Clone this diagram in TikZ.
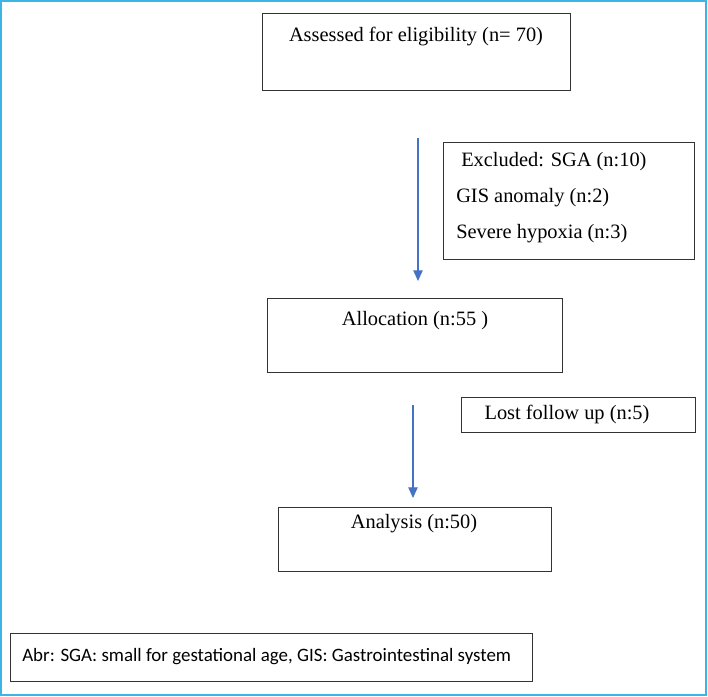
\documentclass[tikz,border=0pt]{standalone}
\usepackage{fontspec}
\setmainfont{Liberation Serif}
\newfontfamily\abrfont{Carlito}
\usetikzlibrary{arrows.meta}
\definecolor{frameblue}{RGB}{60,180,230}
\definecolor{arrblue}{RGB}{68,114,196}
\begin{document}
\begin{tikzpicture}[x=0.75pt,y=-0.75pt,
  box/.style={draw=black!80,line width=0.6pt},
  txt/.style={font=\fontsize{15.3}{17}\selectfont,inner sep=0pt},
  arr/.style={draw=arrblue,line width=0.9pt,-{Triangle[length=8pt,width=7pt]},fill=arrblue}]
\useasboundingbox (0,0) rectangle (708,697);
\draw[frameblue,line width=1.3pt] (1,1) rectangle (706,695);
\draw[box] (262,13) rectangle (570,90);
\node[txt] (t1) at (416,37) {Assessed for eligibility (n= 70)};
\draw[box] (443,142) rectangle (694,259);
\node[txt,anchor=west] (e1) at (461,162) {Excluded: SGA (n:10)};
\node[txt,anchor=west] (e2) at (456,198) {GIS anomaly (n:2)};
\node[txt,anchor=west] (e3) at (456,234) {Severe hypoxia (n:3)};
\draw[box] (267,298) rectangle (562,372);
\node[txt] (t2) at (415,321) {Allocation (n:55 )};
\draw[box] (461,397) rectangle (695,432);
\node[txt] (t3) at (567,414) {Lost follow up (n:5)};
\draw[box] (278,507) rectangle (551,571);
\node[txt] (t4) at (414,524) {Analysis (n:50)};
\draw[box] (10,633) rectangle (532,681);
\node[inner sep=0pt,anchor=west,font=\abrfont\fontsize{14.2}{16}\selectfont] (abr) at (22,657) {Abr: SGA: small for gestational age, GIS: Gastrointestinal system};
\coordinate (a1s) at (418,138); \coordinate (a1e) at (418,281);
\coordinate (a2s) at (413,405); \coordinate (a2e) at (413,498);
\draw[arr] (a1s) -- (a1e);
\draw[arr] (a2s) -- (a2e);
\end{tikzpicture}
\end{document}
